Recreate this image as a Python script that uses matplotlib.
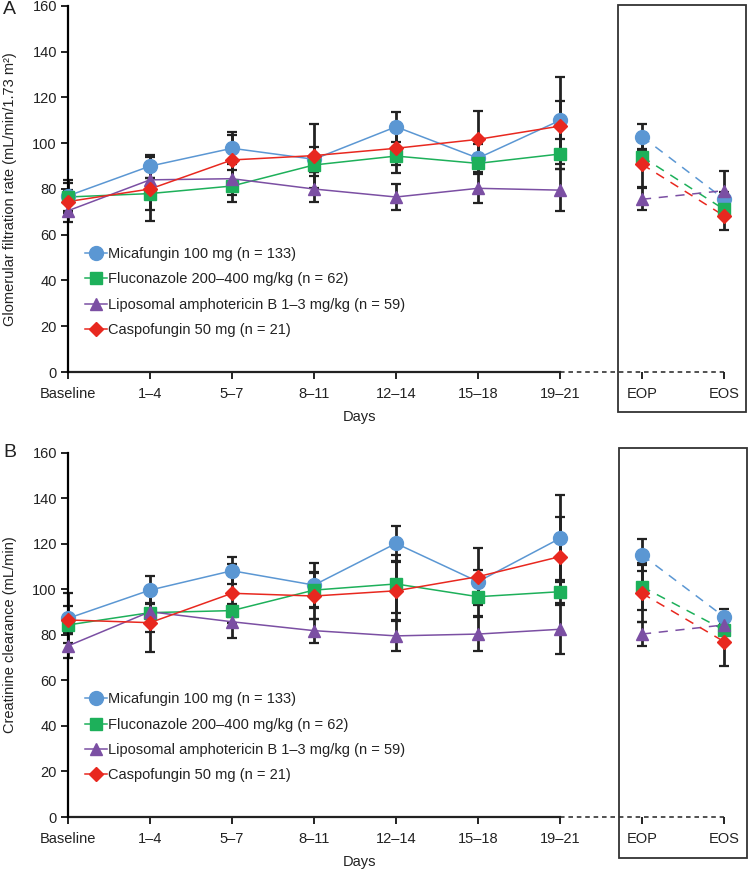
import matplotlib
matplotlib.use("Agg")
import matplotlib.pyplot as plt
from matplotlib.patches import Rectangle
from matplotlib.lines import Line2D
import numpy as np

plt.rcParams['font.family'] = ['Liberation Sans', 'DejaVu Sans']

categories = ["Baseline", "1–4", "5–7", "8–11", "12–14", "15–18", "19–21", "EOP", "EOS"]
series_names = ["Micafungin 100 mg (n = 133)",
                "Fluconazole 200–400 mg/kg (n = 62)",
                "Liposomal amphotericin B 1–3 mg/kg (n = 59)",
                "Caspofungin 50 mg (n = 21)"]
colors = ["#5b97d3", "#1db05a", "#7b4fa3", "#e8281f"]
markers = ["o", "s", "^", "D"]
msizes = [10, 8, 8.5, 7.5]

# Panel A: glomerular filtration rate
gfr_mica = [77, 90, 97.8, 93, 107.2, 93.5, 110, 102.9, 75.6]
gfr_fluc = [76.5, 78, 81.3, 90.5, 94.4, 91.2, 95.3, 94.1, 71.1]
gfr_lamb = [70.5, 84, 84.5, 80, 76.5, 80.3, 79.5, 75.5, 79.3]
gfr_casp = [74.5, 80, 92.7, 94.6, 97.8, 101.7, 107.5, 90.8, 68.3]
gfr_err_mica = [7, 5, 7, 5.5, 6.6, 6, 19, 5.3, 3]
gfr_err_fluc = [6, 7, 7, 3, 4, 4, 6.5, 3, 3]
gfr_err_lamb = [5, 5, 7, 5.6, 5.5, 6.4, 9.3, 4.8, 8.5]
gfr_err_casp = [5, 14, 11, 14, 11, 12.4, 11, 10, 6.4]

# Panel B: creatinine clearance
crcl_mica = [87.2, 99.6, 108.1, 101.8, 120.1, 103.3, 122.3, 115, 87.9]
crcl_fluc = [84.3, 89.7, 90.6, 99.6, 102.3, 96.7, 98.9, 101.1, 82.1]
crcl_lamb = [75.1, 90.1, 85.7, 81.8, 79.5, 80.3, 82.4, 80.3, 84.3]
crcl_casp = [86.5, 85.3, 98.2, 97, 99.3, 105.5, 114.3, 98.2, 77]
crcl_err_mica = [11, 6.2, 5.9, 9.8, 7.6, 5, 19, 6.9, 3.4]
crcl_err_fluc = [3, 4.4, 3, 8, 12.7, 8.5, 5, 10.3, 2]
crcl_err_lamb = [5.4, 8.8, 7.3, 5.3, 6.5, 7.3, 10.8, 5.2, 2]
crcl_err_casp = [6, 13, 13, 10, 12.8, 12.4, 17.3, 12.4, 10.7]

yticks = [0, 20, 40, 60, 80, 100, 120, 140, 160]

W, H = 750, 872
fig = plt.figure(figsize=(W / 100, H / 100), dpi=100)

FS = 10.5

def panel(rect, vals, errs, ylabel, letter, letter_y, box_px):
    left, top, right, bottom = rect
    ax = fig.add_axes([left / W, 1 - bottom / H, (right - left) / W, (bottom - top) / H])
    x = np.arange(len(categories))
    xmax = (right - left) / 82.0
    ax.set_xlim(0, xmax)
    ax.set_ylim(0, 160)
    for s in ["top", "right", "bottom"]:
        ax.spines[s].set_visible(False)
    ax.spines["left"].set_linewidth(1.6)
    ax.spines["left"].set_bounds(0, 160)
    ax.set_yticks(yticks)
    ax.set_yticklabels([str(t) for t in yticks], fontsize=FS)
    ax.set_xticks(x)
    ax.set_xticklabels(categories, fontsize=FS)
    ax.tick_params(axis="both", direction="out", length=5, width=1.4, colors="#222222", pad=3)
    ax.tick_params(axis="x", pad=6)
    # bottom axis: solid then dashed
    ax.plot([0, 6], [0, 0], color="#222222", lw=1.6, clip_on=False, zorder=1)
    ax.plot([6, 8], [0, 0], color="#222222", lw=1.1, ls=(0, (3, 2.5)), clip_on=False, zorder=1)
    # box around EOP/EOS
    bx0 = (box_px[0] - left) / 82.0
    bx1 = (box_px[1] - left) / 82.0
    by0 = (bottom - box_px[3]) / (bottom - top) * 160
    by1 = (bottom - box_px[2]) / (bottom - top) * 160
    ax.add_patch(Rectangle((bx0, by0), bx1 - bx0, by1 - by0, fill=False,
                           ec="#333333", lw=1.3, clip_on=False, zorder=1))
    handles = []
    for i in range(4):
        v = np.array(vals[i])
        e = np.array(errs[i])
        ax.errorbar(x, v, yerr=e, fmt="none", ecolor="#222222", elinewidth=2.0,
                    capsize=3.5, capthick=1.6, zorder=2, clip_on=False)
    for i in range(4):
        v = np.array(vals[i])
        ax.plot(x[:7], v[:7], color=colors[i], lw=1.1, zorder=3, clip_on=False)
        ax.plot(x[7:], v[7:], color=colors[i], lw=1.1, ls=(0, (6, 5)), zorder=3, clip_on=False)
        ax.plot(x, v, ls="none", marker=markers[i], ms=msizes[i], color=colors[i],
                mec=colors[i], zorder=4, clip_on=False)
        handles.append(Line2D([], [], color=colors[i], lw=1.1, marker=markers[i],
                              ms=msizes[i], mec=colors[i]))
    leg = ax.legend(handles, series_names, loc="lower left",
                    bbox_to_anchor=(0.025, 0.095), frameon=False, fontsize=FS,
                    handlelength=1.5, handletextpad=0.1, labelspacing=0.78,
                    borderpad=0, borderaxespad=0)
    for t in leg.get_texts():
        t.set_color("#222222")
    fig.text(10 / W, 1 - ((top + bottom) / 2) / H, ylabel, rotation=90, fontsize=FS,
             ha="center", va="center", color="#222222")
    fig.text(3 / W, 1 - letter_y / H, letter, fontsize=14, ha="left", va="center", color="#222222")
    return ax

axA = panel((68, 6, 746, 372), [gfr_mica, gfr_fluc, gfr_lamb, gfr_casp],
            [gfr_err_mica, gfr_err_fluc, gfr_err_lamb, gfr_err_casp],
            "Glomerular filtration rate (mL/min/1.73 m²)", "A", 10, (618, 746, 5, 412))
axB = panel((68, 452.5, 746, 817), [crcl_mica, crcl_fluc, crcl_lamb, crcl_casp],
            [crcl_err_mica, crcl_err_fluc, crcl_err_lamb, crcl_err_casp],
            "Creatinine clearance (mL/min)", "B", 452, (619, 747, 448, 858))

fig.text(360 / W, 1 - 417 / H, "Days", fontsize=FS, ha="center", va="center", color="#222222")
fig.text(360 / W, 1 - 862 / H, "Days", fontsize=FS, ha="center", va="center", color="#222222")

fig.savefig("out.png", dpi=100)
